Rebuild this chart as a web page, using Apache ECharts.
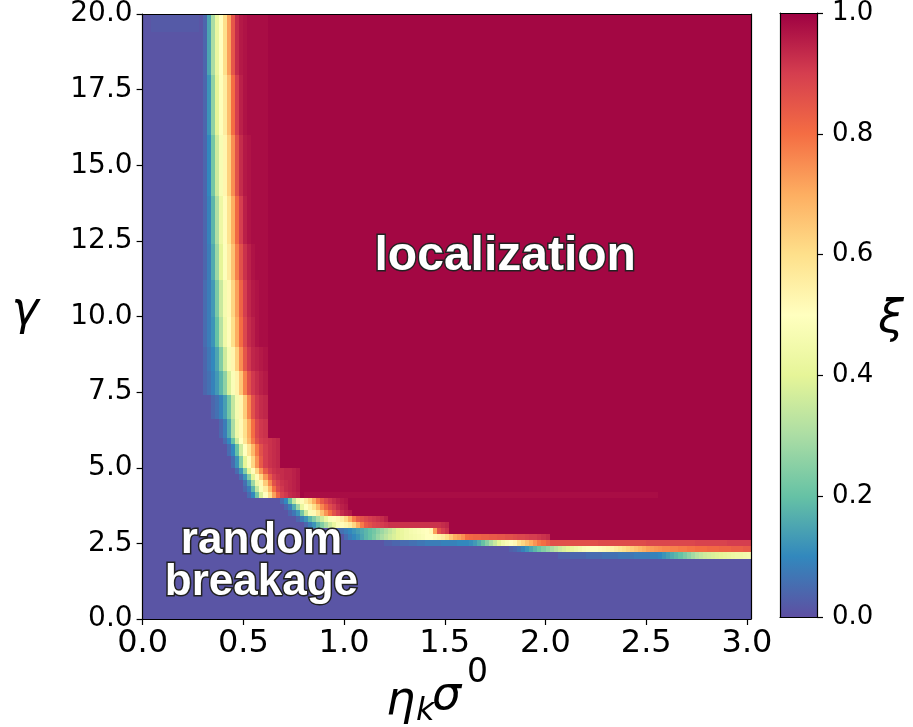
<!DOCTYPE html>
<html>
<head>
<meta charset="utf-8">
<script src="https://cdn.jsdelivr.net/npm/echarts@6/dist/echarts.min.js"></script>
<style>
  html, body { margin: 0; padding: 0; background: #ffffff; }
  #chart { width: 913px; height: 727px; }
</style>
</head>
<body>
<div id="chart"></div>
<script>
// ---- ξ map on the (η_k σ^0, γ) plane ----
// cell grid: 151 columns of 0.02 in η_k σ^0, 100 rows of 0.2 in γ
const xStep = 0.02;
const nCols = 151;
const yStep = 0.2;
const nRows = 100;

const xTicks = [0, 0.5, 1.0, 1.5, 2.0, 2.5, 3.0];
const yTicks = [0, 2.5, 5.0, 7.5, 10.0, 12.5, 15.0, 17.5, 20.0];
const cbTicks = [0, 0.2, 0.4, 0.6, 0.8, 1.0];

// ξ in percent on each side of the transition
const lowLevel = 1;
const highLevel = 99;

// transition profile of each row band:
// [first row, last row, first column, ξ (%) from that column on; "v*n" repeats v n times]
// cells left of the profile sit at lowLevel, cells right of it at highLevel
const boundaryRows = [
  [90, 99, 15, '4 15 30 42 50 60 72 85 93 96 97 98*5'],
  [80, 89, 15, '4 12 26 40 49 56 67 80 90 95 97 98*5'],
  [70, 79, 15, '4 10 22 36 47 53 63 75 86 93 96 97 98*4'],
  [62, 69, 15, '4 9 18 31 43 51 59 70 81 90 95 97 98*4'],
  [56, 61, 15, '4 8 16 28 40 49 56 66 77 86 92 95 97 98*3'],
  [50, 55, 15, '5 8 13 23 35 46 52 62 72 82 90 94 96 97 98*2'],
  [45, 49, 15, '5 8 12 20 32 44 51 60 70 80 88 93 95 97 98*2'],
  [41, 44, 15, '4 7 10 15 24 36 47 53 63 75 85 91 94 95 96 97'],
  [37, 40, 15, '4 6 9 13 18 26 38 48 54 65 77 86 91 93 95 96'],
  [33, 36, 17, '4 6 9 14 22 34 46 53 64 76 86 91 93 94'],
  [30, 32, 19, '4 8 16 30 44 52 60 70 80 88 91 92'],
  [29, 29, 20, '5 10 20 36 50 58 68 78 86 90 91 92 93 94'],
  [27, 28, 21, '5 10 20 36 50 58 68 78 86 90 92 93 94'],
  [25, 26, 22, '5 12 24 40 51 62 74 84 90 92 93 94'],
  [24, 24, 23, '5 12 24 40 51 62 74 84 90 92 93 93 94 94 95 96'],
  [23, 23, 24, '5 12 24 40 51 62 74 84 90 92 93 94 94 95 96'],
  [22, 22, 25, '6 14 28 44 52 64 76 86 90 92 93 94 95 96'],
  [21, 21, 25, '4 8 18 34 48 56 68 80 88 91 93 94 95 96'],
  [20, 20, 26, '5 10 22 38 50 60 72 82 89 91 93 94 95'],
  [19, 19, 34, '5 10 20 34 46 51 56 62 70 78 84 88 91 93 95 96 97'],
  [18, 18, 35, '4 8 16 28 42 50 54 60 68 76 82 87 90 93 95 96'],
  [17, 17, 36, '4 7 12 22 36 48 52 58 66 74 80 86 90 93 95 96'],
  [16, 16, 38, '4 8 12 18 24 30 36 42 48 51 53 56 62 70 78 84 86 88 90 91 92 93 95'],
  [15, 15, 40, '4 8 12 18 24 30 36 42 48 51 53 56 62 70 78 84 86 88 89 90 91 92 92*12 93 94'],
  [14, 14, 48, '4 6 8 10 12 14 16 18 20 22 25 28 31 34 37 40 42 44 46 47 48 49 50 52 72 86 90 92'],
  [13, 13, 50, '5 8 10 12 15 18 20 23 27 30 33 36 38 40 42 44 45 46 47 48 50 50 52 54 56 60 65 70 72 75 80 81 82 82 83 83 84 84 85 85 86 86 87 88 88 89 90 90 91 92 93'],
  [12, 12, 60, '3 3 4 4 5 5 6 6 7 7 8 8 8 8 9 9 9 9 10 10 10 11 13 16 20 25 30 35 40 45 48 50 52 58 62 66 70 74 78 80 83 86*12 87*12 88*12 89*8 90*6'],
  [11, 11, 91, '3 4 6 9 12 15 18 21 24 27 30 33 36 38 40 42 44 46 48 49 50 50 51 52 53 54 56 58 60 62 64 66 68 70 72 73 74 75 76 76 77 77 78 78 79 79 80 80 80 81 81 81 82 82 82 83 83 83 84 84'],
  [10, 10, 103, '3*3 4*4 5*4 6*4 7*4 8*4 9*2 10 12 14 16 18 20 23 26 29 32 34 36 37 38 39 40 41 42 43 44 44 45 46']
];

// faint shading inside the flat regions: [first row, last row, first column, last column, ξ (%)]
const shadePatches = [
  [97, 99, 2, 13, 2],
  [20, 20, 40, 127, 98]
];

// Spectral_r colour ramp
const spectralR = ['#5e4fa2', '#3288bd', '#66c2a5', '#abdda4', '#e6f598', '#ffffbf',
                   '#fee08b', '#fdae61', '#f46d43', '#d53e4f', '#9e0142'];

// text placed on the map: [text, η_k σ^0, γ]
const regionLabels = [
  ['localization', 1.80, 11.97],
  ['random', 0.59, 2.57],
  ['breakage', 0.59, 1.20]
];

function expand(spec) {
  const out = [];
  spec.trim().split(/\s+/).forEach(tok => {
    const parts = tok.split('*');
    const v = Number(parts[0]);
    const n = parts.length > 1 ? Number(parts[1]) : 1;
    for (let i = 0; i < n; i++) out.push(v);
  });
  return out;
}

function buildCells() {
  const grid = [];
  for (let r = 0; r < nRows; r++) {
    const row = new Array(nCols).fill(lowLevel);
    const band = boundaryRows.find(b => r >= b[0] && r <= b[1]);
    if (band) {
      const vals = expand(band[3]);
      const start = band[2];
      for (let c = start; c < nCols; c++) {
        const k = c - start;
        row[c] = k < vals.length ? vals[k] : highLevel;
      }
    }
    grid.push(row);
  }
  shadePatches.forEach(([r0, r1, c0, c1, v]) => {
    for (let r = r0; r <= r1; r++) {
      for (let c = c0; c <= c1; c++) grid[r][c] = v;
    }
  });
  const cells = [];
  for (let r = 0; r < nRows; r++) {
    for (let c = 0; c < nCols; c++) {
      cells.push([c * xStep, r * yStep, grid[r][c] / 100]);
    }
  }
  return cells;
}

const xMax = nCols * xStep;
const yMax = nRows * yStep;
const fmt1 = v => Number(v).toFixed(1);
const tickFont = 'DejaVu Sans';

function renderCell(params, api) {
  const x = api.value(0);
  const y = api.value(1);
  const a = api.coord([x, y + yStep]);
  const b = api.coord([x + xStep, y]);
  const x0 = Math.round(a[0]), y0 = Math.round(a[1]);
  const x1 = Math.round(b[0]), y1 = Math.round(b[1]);
  return {
    type: 'rect',
    shape: { x: x0, y: y0, width: x1 - x0, height: y1 - y0 },
    style: { fill: api.visual('color') }
  };
}

const frameLine = { show: true, onZero: false, lineStyle: { color: '#000', width: 1.2 } };
const bareAxis = {
  axisLine: frameLine, axisTick: { show: false }, axisLabel: { show: false },
  splitLine: { show: false }, z: 10
};

const chart = echarts.init(document.getElementById('chart'), null, { renderer: 'canvas' });

const option = {
  animation: false,
  grid: [
    { left: 142.6, top: 11, width: 608.4, height: 608 },
    { left: 780, top: 10, width: 37, height: 607 }
  ],
  xAxis: [
    {
      gridIndex: 0, type: 'value', min: 0, max: xMax, position: 'bottom',
      axisLine: frameLine,
      axisTick: { show: true, customValues: xTicks, length: 6, lineStyle: { color: '#000', width: 1.2 } },
      axisLabel: { customValues: xTicks, formatter: fmt1, fontSize: 32, color: '#000', fontFamily: tickFont, margin: 9 },
      splitLine: { show: false }, z: 10
    },
    Object.assign({ gridIndex: 0, type: 'value', min: 0, max: xMax, position: 'top' }, bareAxis),
    Object.assign({ gridIndex: 1, type: 'value', min: 0, max: 1, position: 'bottom' }, bareAxis),
    Object.assign({ gridIndex: 1, type: 'value', min: 0, max: 1, position: 'top' }, bareAxis)
  ],
  yAxis: [
    {
      gridIndex: 0, type: 'value', min: 0, max: yMax, interval: 2.5, position: 'left',
      axisLine: frameLine,
      axisTick: { show: true, customValues: yTicks, length: 6, lineStyle: { color: '#000', width: 1.2 } },
      axisLabel: { customValues: yTicks, formatter: fmt1, fontSize: 28, color: '#000', fontFamily: tickFont, margin: 10 },
      splitLine: { show: false }, z: 10
    },
    Object.assign({ gridIndex: 0, type: 'value', min: 0, max: yMax, position: 'right' }, bareAxis),
    {
      gridIndex: 1, type: 'value', min: 0, max: 1, interval: 0.2, position: 'right',
      axisLine: frameLine,
      axisTick: { show: true, customValues: cbTicks, length: 6, lineStyle: { color: '#000', width: 1.2 } },
      axisLabel: { customValues: cbTicks, formatter: fmt1, fontSize: 26, color: '#000', fontFamily: tickFont, margin: 15 },
      splitLine: { show: false }, z: 10
    },
    Object.assign({ gridIndex: 1, type: 'value', min: 0, max: 1, position: 'left' }, bareAxis)
  ],
  visualMap: {
    show: false, type: 'continuous', min: 0, max: 1, dimension: 2, seriesIndex: 0,
    inRange: { color: spectralR }
  },
  series: [{
    type: 'custom',
    xAxisIndex: 0, yAxisIndex: 0,
    dimensions: ['eta', 'gamma', 'xi'],
    encode: { x: 0, y: 1 },
    renderItem: renderCell,
    data: buildCells(),
    silent: true,
    animation: false
  }]
};

chart.setOption(option);

// colour bar and text drawn at positions taken from the axes
const cbTop = chart.convertToPixel({ xAxisIndex: 2, yAxisIndex: 2 }, [0, 1]);
const cbBottom = chart.convertToPixel({ xAxisIndex: 2, yAxisIndex: 2 }, [1, 0]);

const graphics = [{
  type: 'rect', z: 1, silent: true,
  shape: { x: cbTop[0], y: cbTop[1], width: cbBottom[0] - cbTop[0], height: cbBottom[1] - cbTop[1] },
  style: {
    fill: {
      type: 'linear', x: 0, y: 1, x2: 0, y2: 0,
      colorStops: spectralR.map((c, i) => ({ offset: i / (spectralR.length - 1), color: c }))
    }
  }
}];

regionLabels.forEach(([txt, x, y], i) => {
  const p = chart.convertToPixel({ xAxisIndex: 0, yAxisIndex: 0 }, [x, y]);
  graphics.push({
    type: 'text', z: 20, silent: true, x: p[0], y: p[1],
    style: {
      text: txt, align: 'center', verticalAlign: 'middle',
      font: 'bold ' + (i === 0 ? '48px' : '44px') + ' "Liberation Sans", Arial, sans-serif',
      fill: '#ffffff', stroke: '#222222', lineWidth: 3
    }
  });
});

// axis titles
const mathFont = size => 'italic ' + size + 'px "DejaVu Sans", sans-serif';
graphics.push(
  { type: 'text', z: 20, silent: true, x: 25, y: 312,
    style: { text: 'γ', align: 'center', verticalAlign: 'middle', font: mathFont(46), fill: '#000' } },
  { type: 'text', z: 20, silent: true, x: 891, y: 320,
    style: { text: 'ξ', align: 'center', verticalAlign: 'middle', font: mathFont(46), fill: '#000' } },
  { type: 'text', z: 20, silent: true, x: 386, y: 702,
    style: { text: 'η', align: 'left', verticalAlign: 'middle', font: mathFont(46), fill: '#000' } },
  { type: 'text', z: 20, silent: true, x: 416, y: 712,
    style: { text: 'k', align: 'left', verticalAlign: 'middle', font: mathFont(32), fill: '#000' } },
  { type: 'text', z: 20, silent: true, x: 432, y: 697,
    style: { text: 'σ', align: 'left', verticalAlign: 'middle', font: mathFont(46), fill: '#000' } },
  { type: 'text', z: 20, silent: true, x: 467, y: 673,
    style: { text: '0', align: 'left', verticalAlign: 'middle', font: '33px "DejaVu Sans", sans-serif', fill: '#000' } }
);

chart.setOption({ graphic: graphics });
</script>
</body>
</html>
